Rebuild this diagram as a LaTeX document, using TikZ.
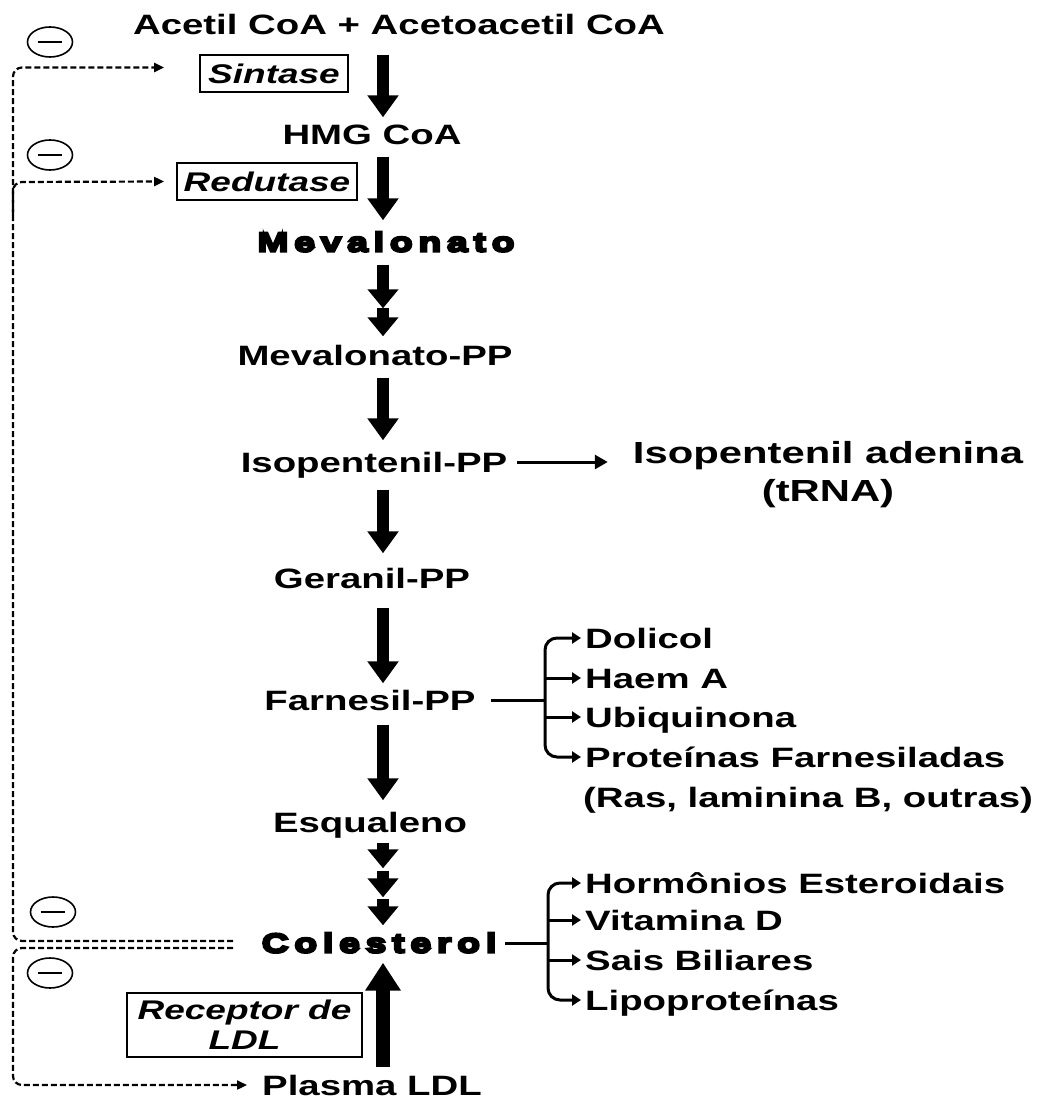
\documentclass[tikz,border=0pt]{standalone}
\usepackage{fontspec}
\usetikzlibrary{arrows.meta,shapes.geometric}
\newfontfamily\mainf{Liberation Sans}[FakeStretch=1.37]
\newfontfamily\heavyf{Liberation Sans Bold}[FakeBold=9, FakeStretch=1.37, LetterSpace=22]
\tikzset{
  txt/.style={font=\mainf\bfseries\fontsize{28}{32}\selectfont, inner sep=0pt, text height=20pt, text depth=0pt},
  bigtxt/.style={font=\mainf\bfseries\fontsize{30.5}{34}\selectfont, inner sep=0pt, text height=22pt, text depth=0pt},
  hv/.style={font=\heavyf\fontsize{27}{30}\selectfont, inner sep=0pt, text height=19pt, text depth=0pt},
  lbl/.style={txt, anchor=west},
  enzbase/.style={draw, line width=1.8pt, font=\mainf\bfseries\itshape\fontsize{27}{30}\selectfont, inner sep=0pt},
  enz/.style={enzbase, text height=20pt, text depth=0pt},
  minus/.style={ellipse, draw, line width=1.6pt, minimum width=45pt, minimum height=30pt, inner sep=0pt},
  bigarr/.style={line width=12pt, -{Triangle[width=30pt,length=22pt]}},
  smallhead/.style={line width=12pt, -{Triangle[width=30pt,length=19pt]}},
  brl/.style={line width=3pt},
  thinarr/.style={line width=3pt, -{Triangle[width=11pt,length=9pt]}},
  fbk/.style={line width=2.2pt, dash pattern=on 6pt off 3pt, rounded corners=9pt},
  fbtip/.style={-{Triangle[width=9pt,length=10pt]}}
}
\begin{document}
\begin{tikzpicture}[x=1pt,y=-1pt]
\useasboundingbox (0,0) rectangle (1038,1102);
\coordinate (col) at (383,0);

% main column
\node[txt] (title) at (399,25) {Acetil CoA + Acetoacetil CoA};
\node[txt] (hmg) at (372,135) {HMG CoA};
\node[hv] (mev) at (386,242) {Mevalonato};
\node[txt] (mevpp) at (375,355) {Mevalonato-PP};
\node[txt] (iso) at (374,462) {Isopentenil-PP};
\node[bigtxt] (ade) at (828,452) {Isopentenil adenina};
\node[bigtxt] (trna) at (828,490) {(tRNA)};
\node[txt] (ger) at (372,578) {Geranil-PP};
\node[txt] (farn) at (370,700) {Farnesil-PP};
\node[txt] (esq) at (370,822) {Esqualeno};
\node[hv] (chol) at (379,943) {Colesterol};
\node[txt] (plasma) at (372,1085) {Plasma LDL};

% enzyme boxes
\node[enz, minimum width=148pt, minimum height=37pt] (sint) at (274,73.5) {Sintase};
\node[enz, minimum width=180pt, minimum height=37pt] (red) at (267,181.5) {Redutase};
\node[enzbase, minimum width=235pt, minimum height=64pt, align=center, font=\mainf\bfseries\itshape\fontsize{27}{30}\selectfont] (rec) at (244.5,1025) {Receptor de\\LDL};

% right labels
\node[lbl] (dol) at (585,638) {Dolicol};
\node[lbl] (haem) at (585,678) {Haem A};
\node[lbl] (ubi) at (585,717) {Ubiquinona};
\node[lbl] (prot) at (585,757) {Proteínas Farnesiladas};
\node[lbl] (ras) at (583,797) {(Ras, laminina B, outras)};
\node[lbl] (horm) at (585,883) {Hormônios Esteroidais};
\node[lbl] (vit) at (585,920) {Vitamina D};
\node[lbl] (sais) at (585,960) {Sais Biliares};
\node[lbl] (lipo) at (585,1000) {Lipoproteínas};

% minus signs
\foreach \n/\x/\y in {m1/50/42, m2/50/155, m3/53/912, m4/50/973}{
  \node[minus] (\n) at (\x,\y) {};
  \draw[line width=2pt] ([xshift=11pt]\n.west) -- ([xshift=-11pt]\n.east);
}

% big arrows
\draw[bigarr, shorten <=19.5pt, shorten >=7.5pt] (title.south -| col) -- (hmg.north -| col);
\draw[bigarr, shorten <=11.5pt, shorten >=12pt] (hmg.south -| col) -- (mev.north -| col);
\draw[smallhead, shorten <=13pt, shorten >=36.5pt] (mev.south -| col) -- (mevpp.north -| col);
\draw[smallhead, shorten <=56pt, shorten >=8.5pt] (mev.south -| col) -- (mevpp.north -| col);
\draw[bigarr, shorten <=12.5pt, shorten >=11.5pt] (mevpp.south -| col) -- (iso.north -| col);
\draw[bigarr, shorten <=17.5pt, shorten >=14.5pt] (iso.south -| col) -- (ger.north -| col);
\draw[bigarr, shorten <=19.5pt, shorten >=6.5pt] (ger.south -| col) -- (farn.north -| col);
\draw[bigarr, shorten <=14.5pt, shorten >=11.5pt] (farn.south -| col) -- (esq.north -| col);
\draw[smallhead, shorten <=10.5pt, shorten >=65pt] (esq.south -| col) -- (chol.north -| col);
\draw[smallhead, shorten <=39pt, shorten >=36pt] (esq.south -| col) -- (chol.north -| col);
\draw[smallhead, shorten <=67pt, shorten >=8pt] (esq.south -| col) -- (chol.north -| col);
\draw[line width=14pt, -{Triangle[width=34pt,length=28pt]}, shorten <=7.5pt, shorten >=10pt] (plasma.north -| col) -- (chol.south -| col);

% isopentenil side arrow
\draw[line width=3pt, -{Triangle[width=14pt,length=13pt]}, shorten <=10pt, shorten >=25pt] (iso.east) -- (iso.east -| ade.west);

% farnesil bracket
\coordinate (fb) at (545,700);
\draw[brl] ([xshift=15pt]farn.east) -- (fb);
\draw[thinarr, rounded corners=12pt] (fb) |- ([xshift=-4pt]dol.west);
\draw[thinarr] (haem.west -| fb) -- ([xshift=-4pt]haem.west);
\draw[thinarr] (ubi.west -| fb) -- ([xshift=-4pt]ubi.west);
\draw[thinarr, rounded corners=12pt] (fb) |- ([xshift=-4pt]prot.west);

% colesterol bracket
\coordinate (cb) at (548,943);
\draw[brl] ([xshift=9pt]chol.east) -- (cb);
\draw[thinarr, rounded corners=12pt] (cb) |- ([xshift=-4pt]horm.west);
\draw[thinarr] (vit.west -| cb) -- ([xshift=-4pt]vit.west);
\draw[thinarr] (sais.west -| cb) -- ([xshift=-4pt]sais.west);
\draw[thinarr, rounded corners=12pt] (cb) |- ([xshift=-4pt]lipo.west);

% feedback dashed lines
\coordinate (cu) at (233,941);
\coordinate (cl) at (233,948);
\draw[fbk, fbtip] (cu) -- (13,941) -- (13,67.5) -- ([xshift=-35pt,yshift=6pt]sint.west);
\draw[fbk, fbtip] (13,215) -- (13,182) -- ([xshift=-12pt]red.west);
\draw[fbk, fbtip] (cl) -- (13,948) -- (13,1085) -- ([xshift=-15pt]plasma.west);
\end{tikzpicture}
\end{document}
